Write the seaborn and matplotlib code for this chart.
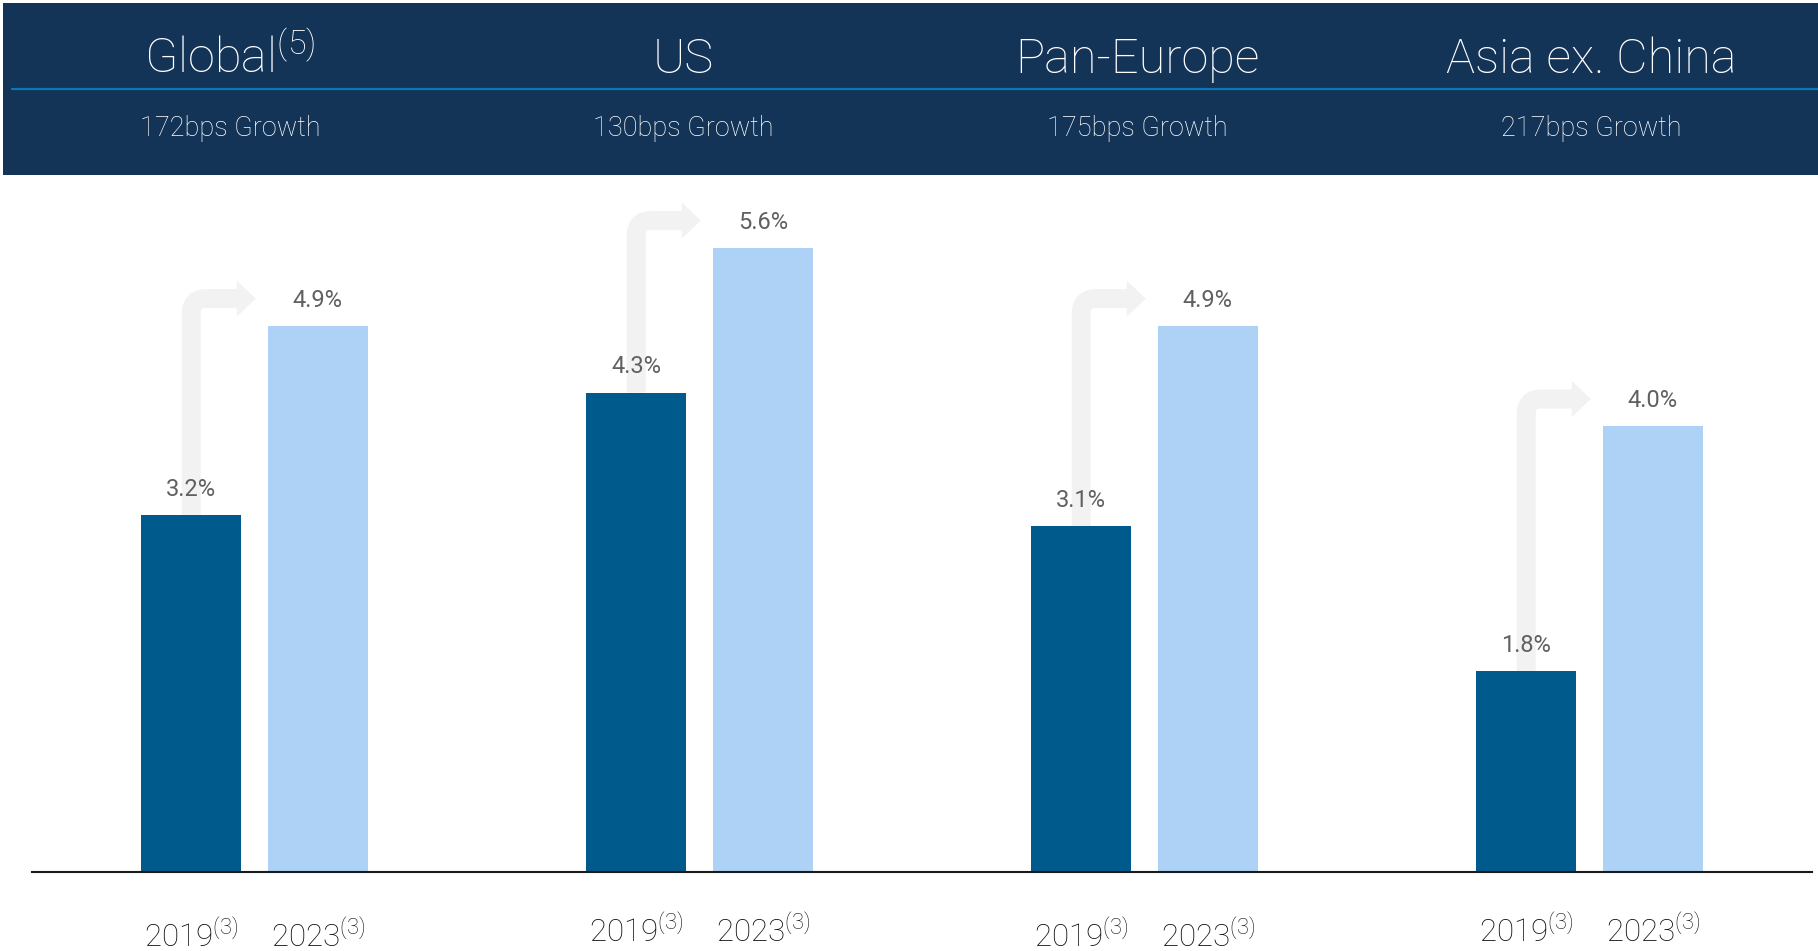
import matplotlib
matplotlib.use("Agg")
import matplotlib.pyplot as plt
from matplotlib.patches import Rectangle, PathPatch, Polygon
from matplotlib.lines import Line2D
from matplotlib.path import Path
from matplotlib.transforms import blended_transform_factory
import seaborn as sns
import pandas as pd

# ---- data -------------------------------------------------------------
regions = ["Global", "US", "Pan-Europe", "Asia ex. China"]
region_notes = ["(5)", "", "", ""]
growth_bps = [172, 130, 175, 217]
years = ["2019", "2023"]
year_note = "(3)"
rate_2019 = [3.2, 4.3, 3.1, 1.8]
rate_2023 = [4.9, 5.6, 4.9, 4.0]

# ---- style ------------------------------------------------------------
sns.set_theme(style="white")
plt.rcParams["font.family"] = ["Roboto", "DejaVu Sans"]
plt.rcParams["mathtext.fontset"] = "custom"
plt.rcParams["mathtext.rm"] = "Roboto:light"
plt.rcParams["mathtext.it"] = "Roboto:light"

NAVY = "#133357"
RULE = "#0a78b8"
DARK = "#005a8b"
LIGHT = "#add2f5"
ARROW = "#f2f2f2"
VALUE_TXT = "#606060"
YEAR_TXT = "#0d0d0d"

W, H = 1818, 951
fig = plt.figure(figsize=(W / 100, H / 100), dpi=100)
fig.patch.set_facecolor("white")

# ---- header band -----------------------------------------------------
fig.add_artist(Rectangle((3 / W, 1 - 175 / H), 1 - 3 / W, 172 / H,
                         transform=fig.transFigure, facecolor=NAVY,
                         edgecolor="none", zorder=0))
fig.add_artist(Line2D([12 / W, 1], [1 - 89 / H, 1 - 89 / H],
                      transform=fig.transFigure, color=RULE, lw=1.6))
col_w = (1 - 3 / W) / 4
for i, (name, note, bps) in enumerate(zip(regions, region_notes, growth_bps)):
    cx = 3 / W + col_w * (i + 0.5)
    label = name + (f"$^{{{note}}}$" if note else "")
    fig.text(cx, 1 - 73 / H, label, ha="center", va="baseline",
             fontsize=35, color="white", fontweight="light")
    fig.text(cx, 1 - 136 / H, f"{bps}bps Growth", ha="center",
             va="baseline", fontsize=19.5, color="white", fontweight="light")

# ---- bars -------------------------------------------------------------
df = pd.DataFrame({
    "region": regions * 2,
    "year": [years[0]] * len(regions) + [years[1]] * len(regions),
    "rate": rate_2019 + rate_2023,
})

ax = fig.add_axes([32 / W, 1 - 872 / H, 1780 / W, 672 / H])
sns.barplot(data=df, x="region", y="rate", hue="year", order=regions,
            hue_order=years, palette=[DARK, LIGHT], saturation=1,
            width=0.569, gap=0.21, linewidth=0, legend=False, ax=ax,
            zorder=2)
ax.set_xlim(-0.5, 3.5)
ax.set_ylim(0, 672 / 111.5)
ax.set_xticks([])
ax.set_yticks([])
ax.set_xlabel("")
ax.set_ylabel("")
for side in ("left", "right", "top"):
    ax.spines[side].set_visible(False)
ax.spines["bottom"].set_color("#1a1a1a")
ax.spines["bottom"].set_linewidth(1.5)
ax.patch.set_alpha(0)

bars_a = list(ax.containers[0])
bars_b = list(ax.containers[1])

# value labels above each bar
for bars, vals in ((bars_a, rate_2019), (bars_b, rate_2023)):
    for p, v in zip(bars, vals):
        ax.annotate(f"{v:.1f}%", (p.get_x() + p.get_width() / 2, v),
                    xytext=(0, 18.4), textcoords="offset points",
                    ha="center", va="center", fontsize=17,
                    color=VALUE_TXT, fontweight="normal", zorder=4)

# year labels under the baseline
year_tr = blended_transform_factory(ax.transData, fig.transFigure)
baseline_px = [947, 942, 947, 942]
for bars, yr in ((bars_a, years[0]), (bars_b, years[1])):
    for p, bpx in zip(bars, baseline_px):
        ax.text(p.get_x() + p.get_width() / 2, 1 - bpx / H,
                f"{yr}$^{{{year_note}}}$", transform=year_tr,
                ha="center", va="baseline", fontsize=22.5,
                color=YEAR_TXT, fontweight="light", clip_on=False)

# elbow arrows from the 2019 bar up and across to the 2023 bar
inv = ax.transData.inverted()
shaft_px, head_len, head_w, radius = 19, 19, 36, 15
for pa, pb in zip(bars_a, bars_b):
    x0, y0 = ax.transData.transform((pa.get_x() + pa.get_width() / 2,
                                     pa.get_height()))
    xl, yt = ax.transData.transform((pb.get_x(), pb.get_height()))
    y_arm = yt + 27
    tip = xl - 12
    base = tip - head_len
    pts = [(x0, y0), (x0, y_arm - radius), (x0, y_arm),
           (x0 + radius, y_arm), (base + 1, y_arm)]
    codes = [Path.MOVETO, Path.LINETO, Path.CURVE3, Path.CURVE3, Path.LINETO]
    shaft = Path(inv.transform(pts), codes)
    ax.add_patch(PathPatch(shaft, fill=False, edgecolor=ARROW,
                           lw=shaft_px * 0.72, capstyle="butt",
                           joinstyle="miter", zorder=1))
    head = inv.transform([(base, y_arm - head_w / 2), (tip, y_arm),
                          (base, y_arm + head_w / 2)])
    ax.add_patch(Polygon(head, closed=True, facecolor=ARROW,
                         edgecolor="none", zorder=1))

fig.savefig("out.png", dpi=100, facecolor="white")
